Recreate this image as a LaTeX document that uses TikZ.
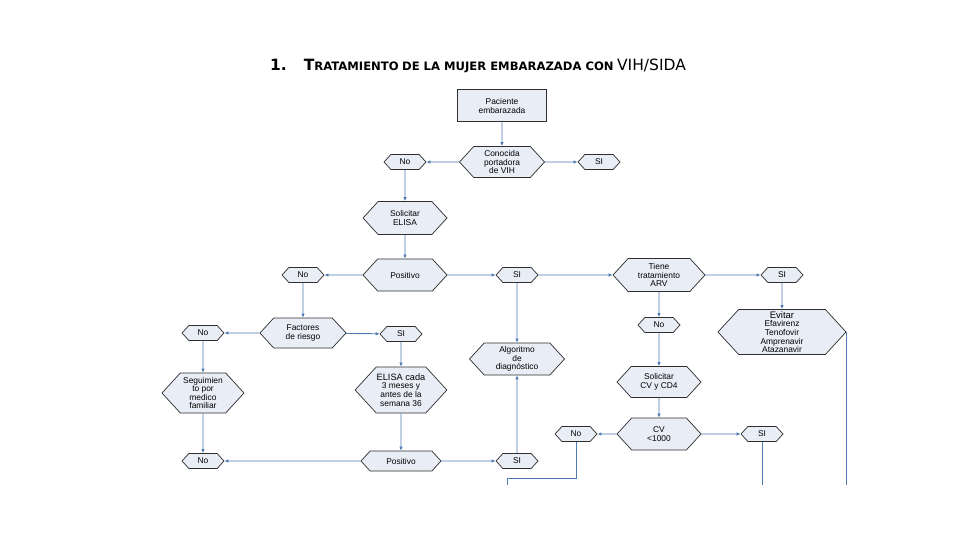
\documentclass[tikz,border=0pt]{standalone}
\usepackage{fontspec}
\setmainfont{Liberation Sans}
\newfontfamily\titlefont{DejaVu Sans}
\usetikzlibrary{shapes.symbols,arrows.meta}
\definecolor{boxfill}{HTML}{E9EEF6}
\definecolor{boxline}{HTML}{2E2E2E}
\definecolor{flowblue}{HTML}{4F7AB3}
% fake small caps for the heading
\newcommand{\fakesc}[2]{{\fontsize{15.5}{17}\selectfont #1}{\fontsize{11.6}{13}\selectfont #2}}

\begin{document}
\begin{tikzpicture}[x=1pt,y=-1pt,
    every node/.style={font=\fontsize{8.4}{8.6}\selectfont, align=center},
    hexa/.style={signal, signal to=west and east, signal pointer angle=95,
      draw=boxline, fill=boxfill, line width=0.7pt, inner sep=0.5pt},
    choice/.style={hexa, minimum width=42pt, minimum height=15pt},
    startbox/.style={rectangle, draw=boxline, fill=boxfill, line width=1pt},
    conn/.style={draw=flowblue, line width=0.9pt, -{Latex[length=4pt,width=3.5pt]}},
    plain/.style={draw=flowblue, line width=0.9pt}]
  \useasboundingbox[fill=white] (0,0) rectangle (960,540);

  \node[font=\titlefont\bfseries] (title) at (478,66)
    {{\fontsize{15.5}{17}\selectfont 1.}\hspace{17pt}\fakesc{T}{RATAMIENTO} \fakesc{}{DE LA MUJER EMBARAZADA CON}
     {\mdseries\fontsize{15.5}{17}\selectfont VIH/SIDA}};

  % main boxes
  \node[startbox, minimum width=89pt, minimum height=32pt] (pac) at (502,106) {Paciente\\embarazada};
  \node[hexa, minimum width=85pt, minimum height=31pt] (con) at (502,162) {Conocida\\portadora\\de VIH};
  \node[hexa, minimum width=84pt, minimum height=33pt] (sol) at (405,218) {Solicitar\\ELISA};
  \node[hexa, minimum width=84pt, minimum height=32pt] (posA) at (405,275) {Positivo};
  \node[hexa, minimum width=92pt, minimum height=33pt] (arv) at (659,275) {Tiene\\tratamiento\\ARV};
  \node[hexa, minimum width=128pt, minimum height=45pt] (evi) at (782,332)
    {{\fontsize{9.5}{9.5}\selectfont Evitar}\\Efavirenz\\Tenofovir\\Amprenavir\\Atazanavir};
  \node[hexa, minimum width=86pt, minimum height=30pt] (fac) at (303,333) {Factores\\de riesgo};
  \node[hexa, minimum width=82pt, minimum height=40pt] (seg) at (203,393) {Seguimien\\to por\\medico\\familiar};
  \node[hexa, minimum width=88pt, minimum height=46pt] (eli) at (401,390)
    {{\fontsize{9.2}{9}\selectfont ELISA cada}\\3 meses y\\antes de la\\semana 36};
  \node[hexa, minimum width=95pt, minimum height=32pt] (alg) at (517,359) {Algoritmo\\de\\diagnóstico};
  \node[hexa, minimum width=84pt, minimum height=31pt] (scv) at (659,382) {Solicitar\\CV y CD4};
  \node[hexa, minimum width=84pt, minimum height=32pt] (cv) at (659,434) {CV\\<1000};
  \node[hexa, minimum width=80pt, minimum height=20pt] (posB) at (401,461) {Positivo};

  % small yes/no boxes
  \foreach \n/\x/\y/\t in {noA/405/162/No, siA/599/162/SI, noB/303/275/No, siB/517/275/SI,
      siC/782/275/SI, noC/659/325/No, noD/203/333/No, siD/401/334/SI,
      noE/576/434/No, siE/762/434/SI, noF/203/461/No, siF/517/461/SI}
    \node[choice] (\n) at (\x,\y) {\t};

  % loose ends at the foot of the page
  \coordinate (bendE) at (507,478);
  \coordinate (endE) at (507,485);
  \coordinate (endS) at (762,485);

  \draw[conn] (pac) -- (con);
  \draw[conn] (con) -- (noA);
  \draw[conn] (con) -- (siA);
  \draw[conn] (noA) -- (sol);
  \draw[conn] (sol) -- (posA);
  \draw[conn] (posA) -- (noB);
  \draw[conn] (posA) -- (siB);
  \draw[conn] (siB) -- (arv);
  \draw[conn] (siB) -- (alg);
  \draw[conn] (arv) -- (siC);
  \draw[conn] (siC) -- (evi);
  \draw[conn] (arv) -- (noC);
  \draw[conn] (noC) -- (scv);
  \draw[conn] (scv) -- (cv);
  \draw[conn] (cv) -- (noE);
  \draw[conn] (cv) -- (siE);
  \draw[conn] (noB) -- (fac);
  \draw[conn] (fac) -- (noD);
  \draw[conn] (fac) -- (siD);
  \draw[conn] (noD) -- (seg);
  \draw[conn] (siD) -- (eli);
  \draw[conn] (seg) -- (noF);
  \draw[conn] (eli) -- (posB);
  \draw[conn] (posB) -- (noF);
  \draw[conn] (posB) -- (siF);
  \draw[conn] (siF) -- (alg);
  \draw[plain] (noE) |- (bendE) -- (endE);
  \draw[plain] (siE) -- (endS);
  \draw[plain] (evi.east) -- (evi.east |- endS);
\end{tikzpicture}
\end{document}
